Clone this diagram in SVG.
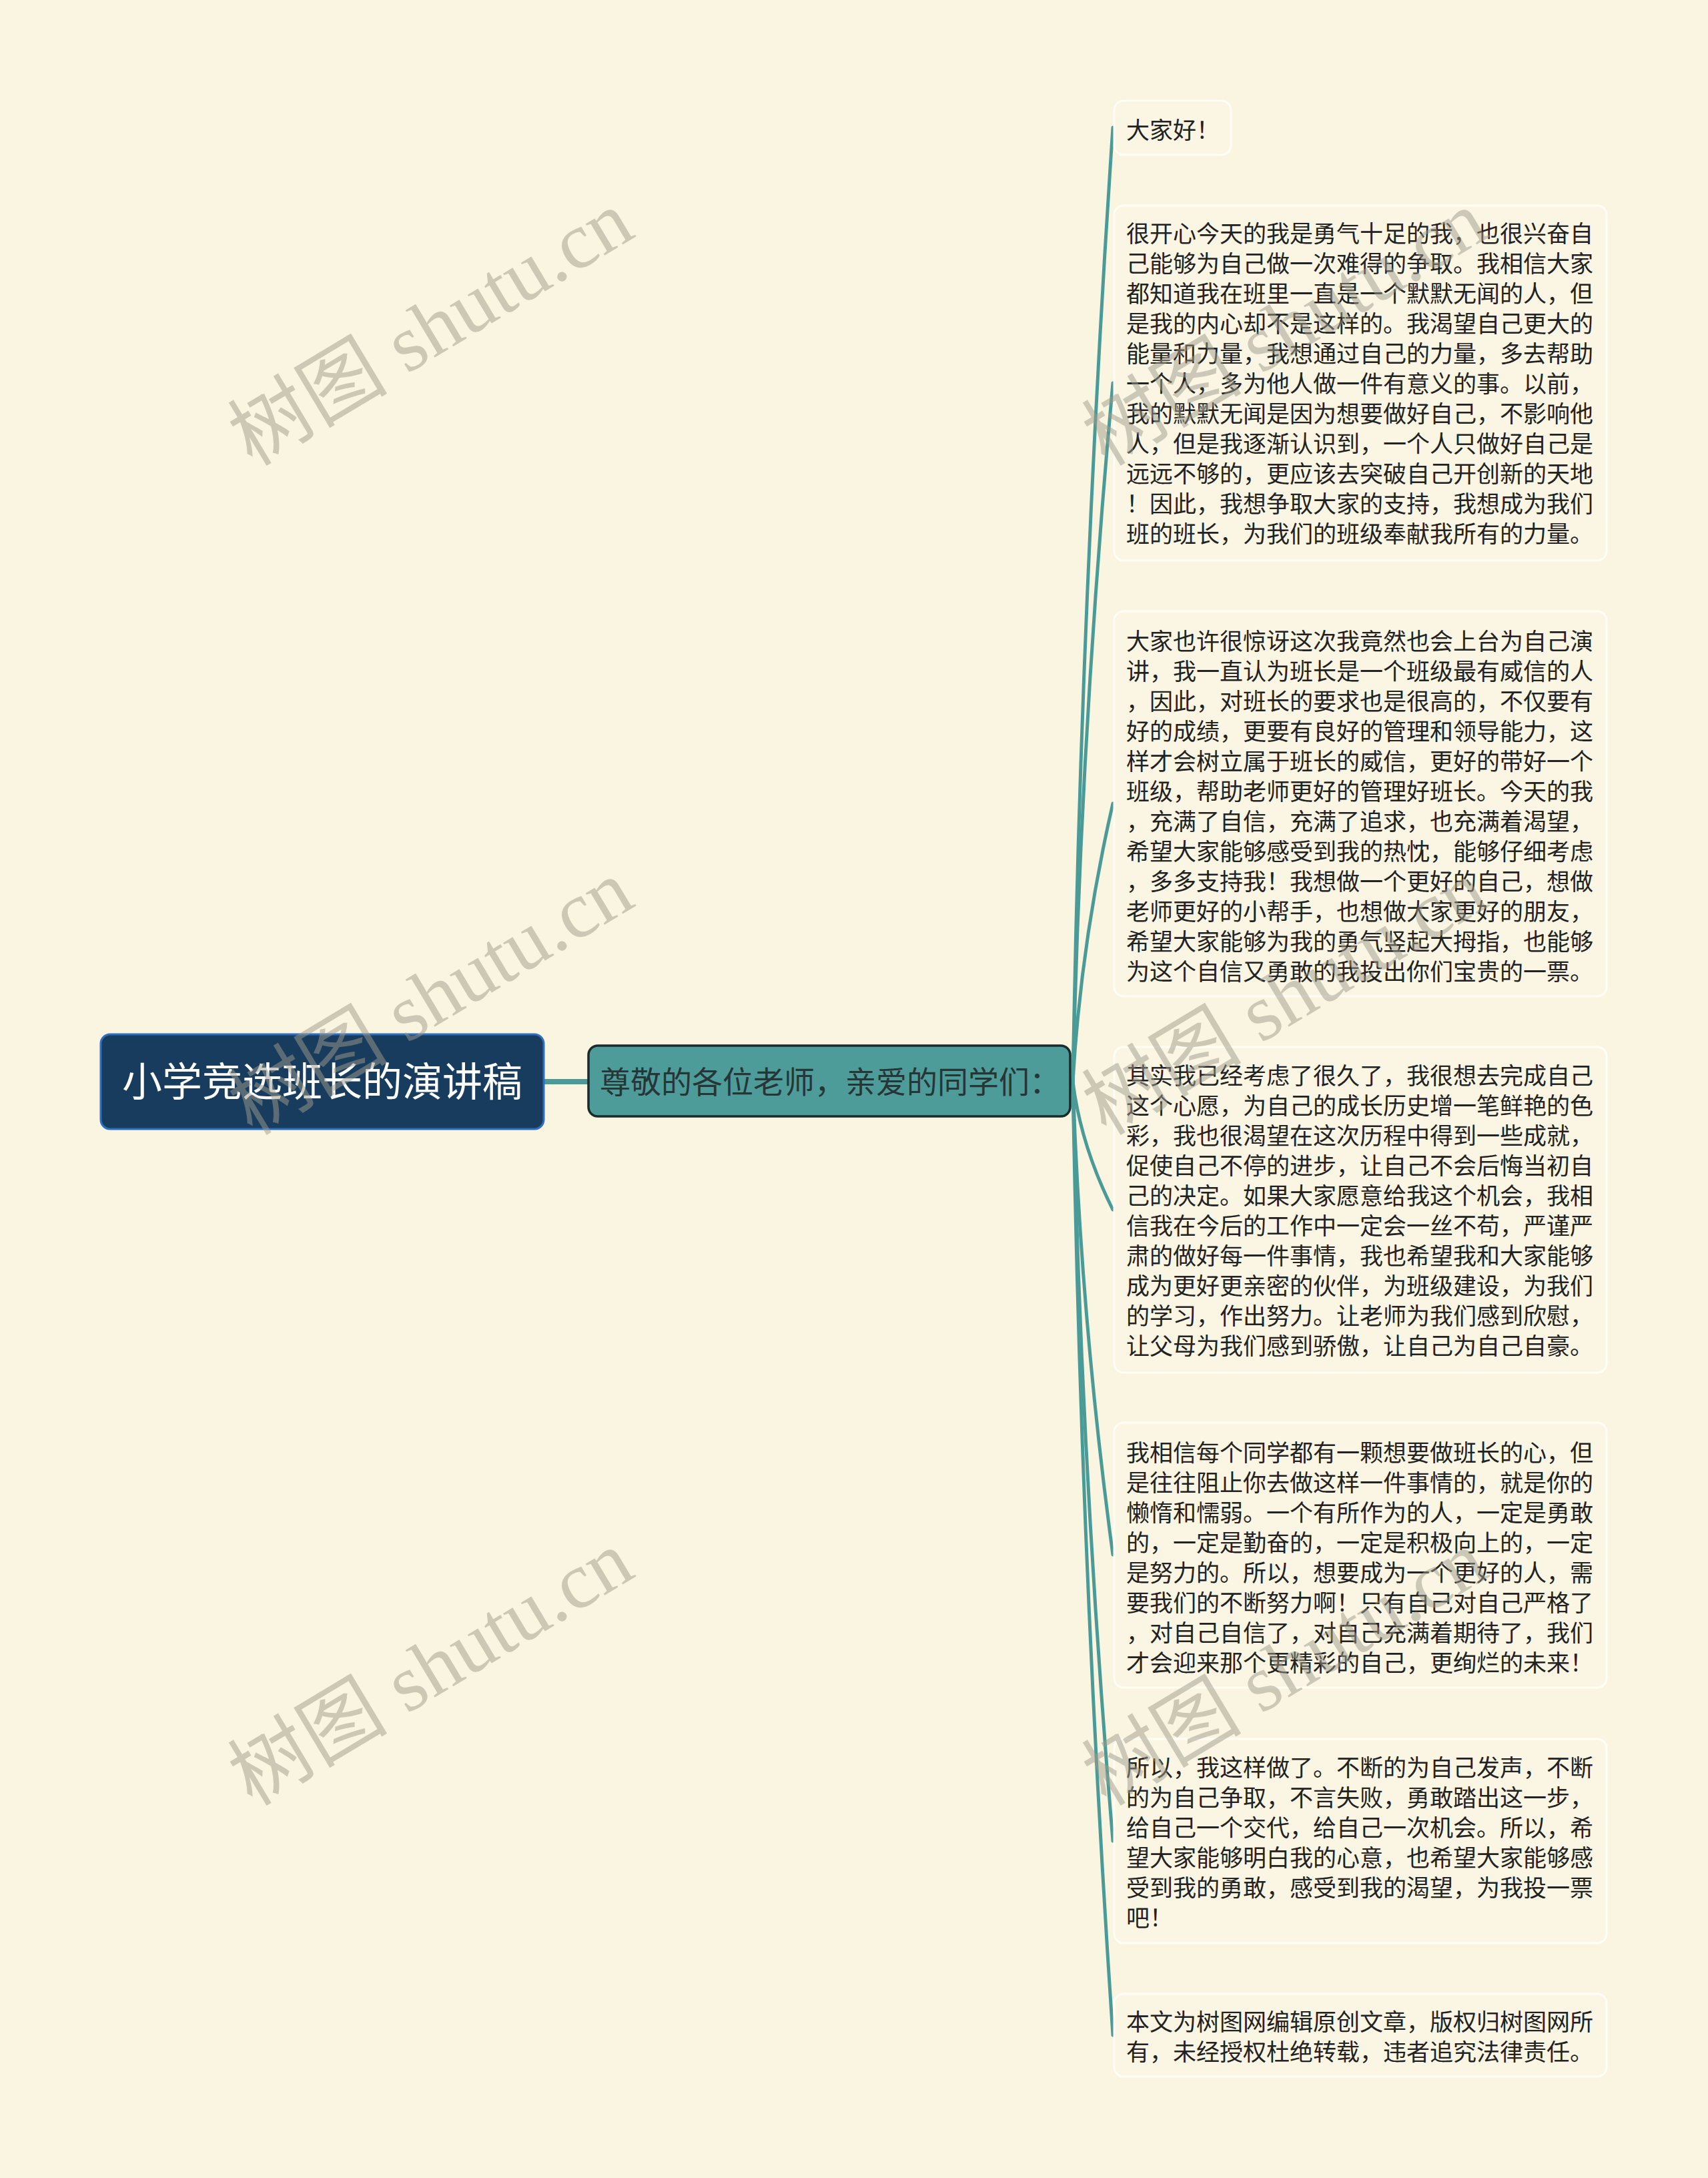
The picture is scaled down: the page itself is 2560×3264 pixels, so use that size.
<svg xmlns="http://www.w3.org/2000/svg" width="2560" height="3264" viewBox="0 0 2560 3264">
<style>
.leaf rect{fill:#faf6e3;stroke:#fffdf6;stroke-width:3}
.leaf text{font-family:"Noto Sans CJK SC","Noto Sans",sans-serif;font-size:35px;fill:#222}
.conn{fill:none;stroke:#4a9b98;stroke-width:5;stroke-linecap:round}
.wm{font-family:"Liberation Serif","Noto Sans CJK SC",serif;font-size:120px;fill:#9f9c8c;opacity:0.5}
</style>
<rect x="0" y="0" width="2560" height="3264" fill="#faf5e0"/>
<g id="connectors">
<line x1="815" y1="1621" x2="884" y2="1621" stroke="#4a9b98" stroke-width="8"/>
<path class="conn" d="M1608 1621 Q1620 906 1668 191"/>
<path class="conn" d="M1608 1621 Q1620 1097 1668 574"/>
<path class="conn" d="M1608 1621 Q1620 1413 1668 1204"/>
<path class="conn" d="M1608 1621 Q1620 1717 1668 1813"/>
<path class="conn" d="M1608 1621 Q1620 1976 1668 2330"/>
<path class="conn" d="M1608 1621 Q1620 2190 1668 2759"/>
<path class="conn" d="M1608 1621 Q1620 2336 1668 3050"/>
</g>
<g id="root">
<rect x="151" y="1550" width="664" height="142" rx="14" fill="#173c5d" stroke="#2f6fc2" stroke-width="3"/>
<text x="483" y="1643" text-anchor="middle" font-family="Noto Sans CJK SC,Noto Sans,sans-serif" font-size="60" fill="#ffffff">小学竞选班长的演讲稿</text>
</g>
<g id="branch">
<rect x="882" y="1567" width="722" height="106" rx="14" fill="#4e9c9a" stroke="#1b2a2a" stroke-width="3.5"/>
<text x="899" y="1638" font-family="Noto Sans CJK SC,Noto Sans,sans-serif" font-size="46" fill="#263535">尊敬的各位老师，亲爱的同学们：</text>
</g>
<g id="leaf1" class="leaf">
<rect x="1670" y="151" width="175" height="81" rx="14"/>
<text x="1688" y="208">大家好！</text>
</g>
<g id="leaf2" class="leaf">
<rect x="1670" y="308" width="738" height="532" rx="14"/>
<text x="1688" y="363"><tspan x="1688">很开心今天的我是勇气十足的我，也很兴奋自</tspan><tspan x="1688" dy="45">己能够为自己做一次难得的争取。我相信大家</tspan><tspan x="1688" dy="45">都知道我在班里一直是一个默默无闻的人，但</tspan><tspan x="1688" dy="45">是我的内心却不是这样的。我渴望自己更大的</tspan><tspan x="1688" dy="45">能量和力量，我想通过自己的力量，多去帮助</tspan><tspan x="1688" dy="45">一个人，多为他人做一件有意义的事。以前，</tspan><tspan x="1688" dy="45">我的默默无闻是因为想要做好自己，不影响他</tspan><tspan x="1688" dy="45">人，但是我逐渐认识到，一个人只做好自己是</tspan><tspan x="1688" dy="45">远远不够的，更应该去突破自己开创新的天地</tspan><tspan x="1688" dy="45">！因此，我想争取大家的支持，我想成为我们</tspan><tspan x="1688" dy="45">班的班长，为我们的班级奉献我所有的力量。</tspan></text>
</g>
<g id="leaf3" class="leaf">
<rect x="1670" y="916" width="738" height="577" rx="14"/>
<text x="1688" y="974"><tspan x="1688">大家也许很惊讶这次我竟然也会上台为自己演</tspan><tspan x="1688" dy="45">讲，我一直认为班长是一个班级最有威信的人</tspan><tspan x="1688" dy="45">，因此，对班长的要求也是很高的，不仅要有</tspan><tspan x="1688" dy="45">好的成绩，更要有良好的管理和领导能力，这</tspan><tspan x="1688" dy="45">样才会树立属于班长的威信，更好的带好一个</tspan><tspan x="1688" dy="45">班级，帮助老师更好的管理好班长。今天的我</tspan><tspan x="1688" dy="45">，充满了自信，充满了追求，也充满着渴望，</tspan><tspan x="1688" dy="45">希望大家能够感受到我的热忱，能够仔细考虑</tspan><tspan x="1688" dy="45">，多多支持我！我想做一个更好的自己，想做</tspan><tspan x="1688" dy="45">老师更好的小帮手，也想做大家更好的朋友，</tspan><tspan x="1688" dy="45">希望大家能够为我的勇气竖起大拇指，也能够</tspan><tspan x="1688" dy="45">为这个自信又勇敢的我投出你们宝贵的一票。</tspan></text>
</g>
<g id="leaf4" class="leaf">
<rect x="1670" y="1569" width="738" height="488" rx="14"/>
<text x="1688" y="1625"><tspan x="1688">其实我已经考虑了很久了，我很想去完成自己</tspan><tspan x="1688" dy="45">这个心愿，为自己的成长历史增一笔鲜艳的色</tspan><tspan x="1688" dy="45">彩，我也很渴望在这次历程中得到一些成就，</tspan><tspan x="1688" dy="45">促使自己不停的进步，让自己不会后悔当初自</tspan><tspan x="1688" dy="45">己的决定。如果大家愿意给我这个机会，我相</tspan><tspan x="1688" dy="45">信我在今后的工作中一定会一丝不苟，严谨严</tspan><tspan x="1688" dy="45">肃的做好每一件事情，我也希望我和大家能够</tspan><tspan x="1688" dy="45">成为更好更亲密的伙伴，为班级建设，为我们</tspan><tspan x="1688" dy="45">的学习，作出努力。让老师为我们感到欣慰，</tspan><tspan x="1688" dy="45">让父母为我们感到骄傲，让自己为自己自豪。</tspan></text>
</g>
<g id="leaf5" class="leaf">
<rect x="1670" y="2132" width="738" height="397" rx="14"/>
<text x="1688" y="2190"><tspan x="1688">我相信每个同学都有一颗想要做班长的心，但</tspan><tspan x="1688" dy="45">是往往阻止你去做这样一件事情的，就是你的</tspan><tspan x="1688" dy="45">懒惰和懦弱。一个有所作为的人，一定是勇敢</tspan><tspan x="1688" dy="45">的，一定是勤奋的，一定是积极向上的，一定</tspan><tspan x="1688" dy="45">是努力的。所以，想要成为一个更好的人，需</tspan><tspan x="1688" dy="45">要我们的不断努力啊！只有自己对自己严格了</tspan><tspan x="1688" dy="45">，对自己自信了，对自己充满着期待了，我们</tspan><tspan x="1688" dy="45">才会迎来那个更精彩的自己，更绚烂的未来！</tspan></text>
</g>
<g id="leaf6" class="leaf">
<rect x="1670" y="2606" width="738" height="306" rx="14"/>
<text x="1688" y="2662"><tspan x="1688">所以，我这样做了。不断的为自己发声，不断</tspan><tspan x="1688" dy="45">的为自己争取，不言失败，勇敢踏出这一步，</tspan><tspan x="1688" dy="45">给自己一个交代，给自己一次机会。所以，希</tspan><tspan x="1688" dy="45">望大家能够明白我的心意，也希望大家能够感</tspan><tspan x="1688" dy="45">受到我的勇敢，感受到我的渴望，为我投一票</tspan><tspan x="1688" dy="45">吧！</tspan></text>
</g>
<g id="leaf7" class="leaf">
<rect x="1670" y="2988" width="738" height="124" rx="14"/>
<text x="1688" y="3043"><tspan x="1688">本文为树图网编辑原创文章，版权归树图网所</tspan><tspan x="1688" dy="45">有，未经授权杜绝转载，违者追究法律责任。</tspan></text>
</g>
<g id="watermarks">
<text class="wm" transform="translate(378 700) rotate(-31)">树图 shutu.cn</text>
<text class="wm" transform="translate(378 1703) rotate(-31)">树图 shutu.cn</text>
<text class="wm" transform="translate(378 2708) rotate(-31)">树图 shutu.cn</text>
<text class="wm" transform="translate(1658 700) rotate(-31)">树图 shutu.cn</text>
<text class="wm" transform="translate(1658 1703) rotate(-31)">树图 shutu.cn</text>
<text class="wm" transform="translate(1658 2708) rotate(-31)">树图 shutu.cn</text>
</g>
</svg>
